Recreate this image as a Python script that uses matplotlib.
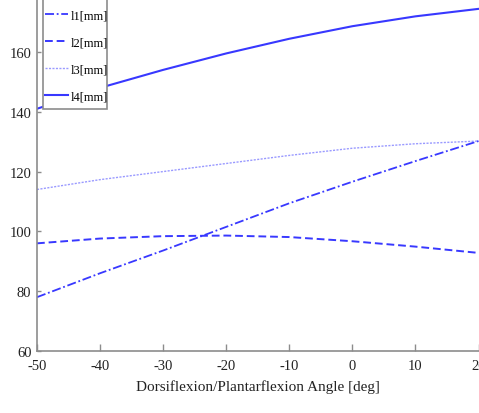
import matplotlib
matplotlib.use("Agg")
import matplotlib.pyplot as plt
from matplotlib.patches import Rectangle

# angle samples [deg] and segment lengths [mm]
angle = [-50, -40, -30, -20, -10, 0, 10, 20]
l1 = [78.0, 86.0, 93.6, 101.5, 109.4, 116.6, 123.5, 130.2]
l2 = [96.0, 97.6, 98.4, 98.6, 98.1, 96.7, 94.9, 92.8]
l3 = [114.0, 117.3, 120.0, 122.7, 125.4, 127.8, 129.3, 130.2]
l4 = [141.0, 148.0, 154.0, 159.5, 164.4, 168.6, 171.9, 174.4]

labels = ["l1[mm]", "l2[mm]", "l3[mm]", "l4[mm]"]
xticks = [-50, -40, -30, -20, -10, 0, 10, 20]
yticks = [60, 80, 100, 120, 140, 160]

plt.rcParams['font.family'] = ['Liberation Serif', 'DejaVu Serif']
plt.rcParams['axes.unicode_minus'] = False

W, H = 479, 414
fig = plt.figure(figsize=(W / 100, H / 100), dpi=100)
ax = fig.add_axes([37 / W, 62 / H, 441.5 / W, 352 / H])

blue = '#3838ff'
ax.plot(angle, l1, color=blue, lw=1.3, ls=(0, (5, 1.5, 1, 1.5)), label=labels[0])
ax.plot(angle, l2, color=blue, lw=1.4, ls=(0, (4, 2)), label=labels[1])
ax.plot(angle, l3, color='#9a9aff', lw=1.0, ls=(0, (1.5, 1)), label=labels[2])
ax.plot(angle, l4, color=blue, lw=1.5, ls='-', label=labels[3])

ax.set_xlim(-50, 20)
ax.set_ylim(60, 177.7)
ax.set_xticks(xticks)
ax.set_yticks(yticks)

for s in ['top', 'right']:
    ax.spines[s].set_visible(False)
for s in ['left', 'bottom']:
    ax.spines[s].set_color('#8c8c8c')
    ax.spines[s].set_linewidth(1.2)

ax.tick_params(axis='x', direction='in', length=5, width=1, color='#8c8c8c',
               labelsize=10.5, pad=6, labelcolor='#222222')
ax.tick_params(axis='y', direction='in', length=3, width=1, color='#8c8c8c',
               labelsize=10.5, pad=4, labelcolor='#222222')

ax.set_xlabel('Dorsiflexion/Plantarflexion Angle [deg]', fontsize=11, labelpad=5,
              color='#222222')

# legend box runs off the top of the figure, as in the original crop
frame = Rectangle((43 / W, (H - 110) / H), 64 / W, 120 / H, transform=fig.transFigure,
                  facecolor='white', edgecolor='#8c8c8c', lw=1.2, zorder=3,
                  clip_on=False)
ax.add_patch(frame)
leg = ax.legend(loc='lower left', bbox_to_anchor=(8 / 441.5, (352 - 103.5) / 352),
                borderaxespad=0, frameon=False, fontsize=9, handlelength=1.85,
                handletextpad=0.2, labelspacing=1.2, borderpad=0)
leg.set_zorder(5)

fig.savefig('out.png', dpi=100)
